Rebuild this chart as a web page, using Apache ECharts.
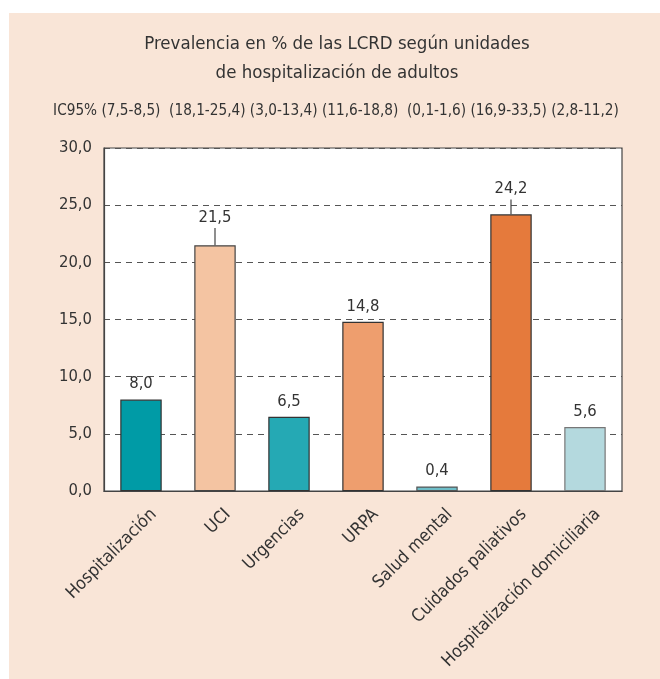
<!DOCTYPE html>
<html>
<head>
<meta charset="utf-8">
<script src="https://cdn.jsdelivr.net/npm/echarts@6/dist/echarts.min.js"></script>
<style>
html,body{margin:0;padding:0;background:#fff;}
#bg{position:absolute;left:9px;top:13px;width:651px;height:666px;background:#f9e5d7;}
#chart{position:absolute;left:0;top:0;width:660px;height:679px;}
</style>
</head>
<body>
<div id="bg"></div>
<div id="chart"></div>
<script>
const titleLines = ['Prevalencia en % de las LCRD según unidades', 'de hospitalización de adultos'];
const icRow = 'IC95% (7,5-8,5)  (18,1-25,4) (3,0-13,4) (11,6-18,8)  (0,1-1,6) (16,9-33,5) (2,8-11,2)';
const categories = ['Hospitalización', 'UCI', 'Urgencias', 'URPA', 'Salud mental', 'Cuidados paliativos', 'Hospitalización domiciliaria'];
const values = [8.0, 21.5, 6.5, 14.8, 0.4, 24.2, 5.6];
const whiskerTop = [null, 23.0, null, null, null, 25.5, null];
const barColors = ['#009ba6', '#f4c4a2', '#25a9b4', '#ee9e6e', '#6fbfc9', '#e57a3c', '#b4d9de'];
const barBorders = ['#333333', '#444444', '#333333', '#333333', '#555555', '#333333', '#777777'];

const FONT = "'Liberation Sans Narrow', 'DejaVu Sans Condensed', 'Roboto', sans-serif";
const fmt = v => v.toFixed(1).replace('.', ',');

const chart = echarts.init(document.getElementById('chart'), null, {renderer: 'canvas'});
chart.setOption({
  backgroundColor: 'transparent',
  animation: false,
  graphic: [
    {type: 'text', x: 337, y: 44, style: {text: titleLines[0], textAlign: 'center', textVerticalAlign: 'middle', fontFamily: FONT, fontSize: 18.5, fill: '#333'}},
    {type: 'text', x: 337, y: 73, style: {text: titleLines[1], textAlign: 'center', textVerticalAlign: 'middle', fontFamily: FONT, fontSize: 18.5, fill: '#333'}},
    {type: 'text', x: 336, y: 111, style: {text: icRow, textAlign: 'center', textVerticalAlign: 'middle', fontFamily: FONT, fontSize: 15.2, fill: '#333'}}
  ],
  grid: {left: 104, top: 148, right: 38, bottom: 185.5, show: true, backgroundColor: '#ffffff', borderColor: '#444', borderWidth: 1.2},
  xAxis: {
    type: 'category', data: categories,
    axisLine: {show: true, lineStyle: {color: '#444', width: 1.2}},
    axisTick: {show: false},
    axisLabel: {rotate: 45, interval: 0, margin: 8, verticalAlign: 'top', lineHeight: 36, fontFamily: FONT, fontSize: 17.5, color: '#333'}
  },
  yAxis: {
    type: 'value', min: 0, max: 30, interval: 5,
    axisLine: {show: true, lineStyle: {color: '#444', width: 1.2}},
    axisTick: {show: false},
    axisLabel: {formatter: fmt, margin: 12, fontFamily: FONT, fontSize: 16.5, color: '#333'},
    splitLine: {show: true, lineStyle: {color: '#555', type: [6, 5], width: 1.2}}
  },
  series: [
    {
      type: 'bar', barWidth: '56%',
      data: values.map((v, i) => ({
        value: v,
        itemStyle: {color: barColors[i], borderColor: barBorders[i], borderWidth: 1.2},
        label: {show: whiskerTop[i] == null}
      })),
      label: {position: 'top', distance: 7, formatter: p => fmt(p.value), fontFamily: FONT, fontSize: 16.5, color: '#333'},
      z: 3
    },
    {
      type: 'custom',
      data: values.map((v, i) => [i, v, whiskerTop[i]]),
      renderItem: (params, api) => {
        const top = api.value(2);
        if (top == null || isNaN(top)) return null;
        const p0 = api.coord([api.value(0), api.value(1)]);
        const p1 = api.coord([api.value(0), top]);
        return {
          type: 'group',
          children: [
            {type: 'line', shape: {x1: p0[0], y1: p0[1], x2: p1[0], y2: p1[1]}, style: {stroke: '#444', lineWidth: 1.2}},
            {type: 'text', style: {x: p1[0], y: p1[1] - 2, text: fmt(api.value(1)), textAlign: 'center', textVerticalAlign: 'bottom', fontFamily: FONT, fontSize: 16.5, fill: '#333'}}
          ]
        };
      },
      z: 4
    }
  ]
});
</script>
</body>
</html>
